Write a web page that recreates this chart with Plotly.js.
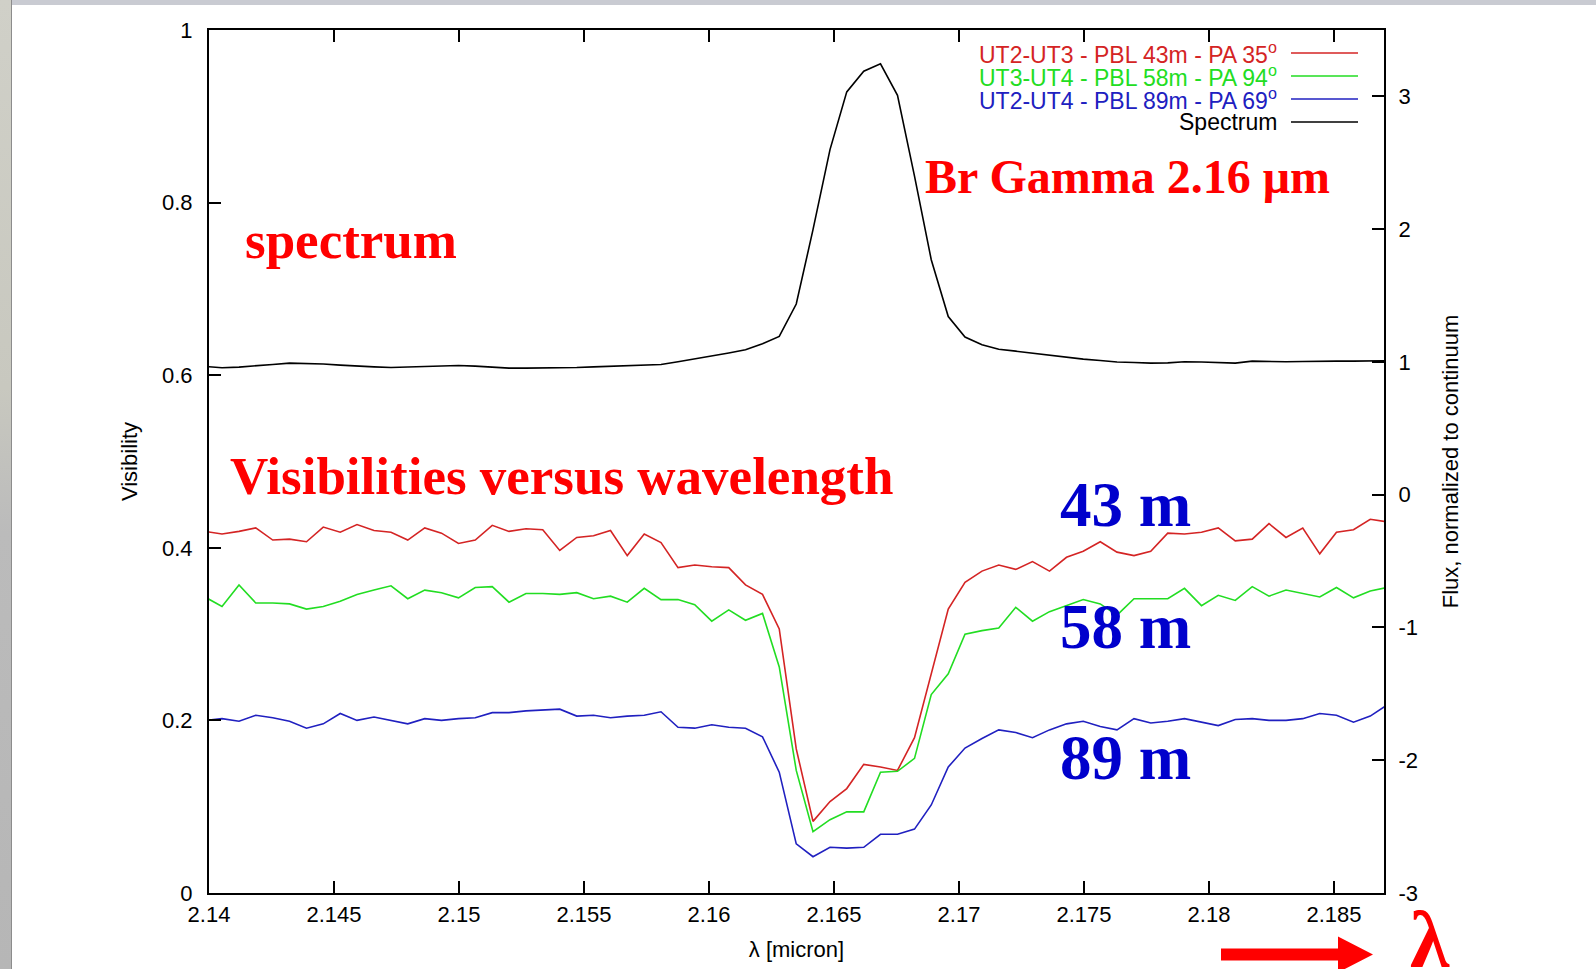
<!DOCTYPE html>
<html><head><meta charset="utf-8">
<script src="https://cdn.plot.ly/plotly-3.0.1.min.js"></script>
<style>
html,body{margin:0;padding:0;background:#fff;overflow:hidden;}
#chart{width:1596px;height:969px;position:absolute;left:0;top:0;}
.edge-left{position:absolute;left:0;top:0;width:11px;height:969px;background:linear-gradient(#d0d0c8,#c8c8bf 40%,#bbbbbb 55%,#b6b6b6);border-right:1px solid #8c8c8c;pointer-events:none;}
.edge-top{position:absolute;left:0;top:0;width:1596px;height:5px;background:#c9cbd2;pointer-events:none;}
</style></head>
<body>
<div id="chart"></div>
<div class="edge-top"></div><div class="edge-left"></div>
<script>
// wavelength grid (micron)
const lambda = [2.13984,2.14052,2.14120,2.14187,2.14255,2.14322,2.14390,2.14457,2.14525,2.14592,
2.14660,2.14728,2.14795,2.14863,2.14930,2.14998,2.15065,2.15133,2.15200,2.15268,
2.15335,2.15403,2.15471,2.15538,2.15606,2.15673,2.15741,2.15808,2.15876,2.15943,
2.16011,2.16079,2.16146,2.16214,2.16281,2.16349,2.16416,2.16484,2.16551,2.16619,
2.16686,2.16754,2.16822,2.16889,2.16957,2.17024,2.17092,2.17159,2.17227,2.17294,
2.17362,2.17430,2.17497,2.17565,2.17632,2.17700,2.17767,2.17835,2.17902,2.17970,
2.18037,2.18105,2.18173,2.18240,2.18308,2.18375,2.18443,2.18510,2.18578,2.18645,2.18713];

// UT2-UT3, 43 m
const vis43 = [0.419,0.416,0.419,0.423,0.409,0.410,0.407,0.424,0.418,0.427,
0.420,0.418,0.409,0.423,0.417,0.405,0.409,0.426,0.419,0.422,
0.421,0.397,0.412,0.414,0.420,0.391,0.416,0.406,0.377,0.380,
0.378,0.377,0.357,0.346,0.306,0.167,0.083,0.106,0.121,0.149,
0.146,0.142,0.180,0.255,0.329,0.360,0.373,0.380,0.375,0.384,
0.373,0.389,0.396,0.407,0.395,0.391,0.396,0.417,0.416,0.418,
0.423,0.408,0.410,0.428,0.412,0.423,0.393,0.418,0.421,0.433,0.430];

// UT3-UT4, 58 m
const vis58 = [0.343,0.332,0.357,0.336,0.336,0.335,0.329,0.332,0.338,0.346,
0.351,0.356,0.341,0.351,0.348,0.342,0.354,0.355,0.337,0.347,
0.347,0.346,0.348,0.341,0.344,0.337,0.353,0.340,0.340,0.334,
0.315,0.328,0.316,0.324,0.262,0.142,0.071,0.085,0.094,0.094,
0.140,0.141,0.156,0.230,0.254,0.300,0.304,0.307,0.331,0.315,
0.326,0.333,0.340,0.335,0.322,0.341,0.341,0.341,0.353,0.333,
0.345,0.339,0.355,0.344,0.351,0.347,0.343,0.354,0.342,0.350,0.354];

// UT2-UT4, 89 m
const vis89 = [0.200,0.202,0.199,0.206,0.203,0.199,0.191,0.196,0.208,0.200,
0.204,0.200,0.196,0.202,0.200,0.202,0.203,0.209,0.209,0.211,
0.212,0.213,0.205,0.206,0.203,0.205,0.206,0.210,0.192,0.191,
0.195,0.192,0.191,0.181,0.140,0.057,0.042,0.053,0.052,0.053,
0.068,0.068,0.074,0.102,0.146,0.168,0.179,0.189,0.186,0.180,
0.189,0.196,0.199,0.193,0.189,0.202,0.197,0.199,0.202,0.198,
0.194,0.201,0.202,0.200,0.200,0.202,0.208,0.206,0.198,0.205,0.218];

// Spectrum, flux normalized to continuum
const flux = [0.966,0.956,0.961,0.973,0.981,0.991,0.988,0.984,0.976,0.968,
0.963,0.958,0.963,0.968,0.971,0.973,0.968,0.961,0.953,0.953,
0.953,0.953,0.958,0.963,0.968,0.971,0.973,0.981,1.001,1.021,
1.046,1.067,1.091,1.137,1.192,1.436,1.996,2.599,3.034,3.190,
3.245,3.008,2.400,1.770,1.342,1.187,1.129,1.095,1.081,1.067,
1.051,1.033,1.021,1.011,0.999,0.996,0.991,0.993,1.001,0.999,
0.993,0.991,1.006,1.001,1.001,1.003,1.006,1.006,1.006,1.009,1.009];

// right-axis tick labels (plain hyphen minus, as in the original)
const fluxTickVals = [-3, -2, -1, 0, 1, 2, 3];
const fluxTickText = ['-3', '-2', '-1', '0', '1', '2', '3'];

const seriesNames = ['UT2-UT3 - PBL 43m - PA 35<sup>o</sup>','UT3-UT4 - PBL 58m - PA 94<sup>o</sup>','UT2-UT4 - PBL 89m - PA 69<sup>o</sup>','Spectrum'];
const seriesColors = ['#d42424','#22dd22','#2020c0','#000000'];

const W = 1596, H = 969, ML = 209, MR = 212, MT = 30, MB = 76;
const PW = W - ML - MR, PH = H - MT - MB;
const px = x => (x - ML) / PW;
const py = y => (H - MB - y) / PH;

const sans = 'Liberation Sans, Arial, Helvetica, sans-serif';
const serif = 'Liberation Serif, Times New Roman, serif';

const traces = [
  {x: lambda, y: vis43, name: seriesNames[0], type: 'scatter', mode: 'lines', line: {color: seriesColors[0], width: 1.6}, showlegend: false},
  {x: lambda, y: vis58, name: seriesNames[1], type: 'scatter', mode: 'lines', line: {color: seriesColors[1], width: 1.6}, showlegend: false},
  {x: lambda, y: vis89, name: seriesNames[2], type: 'scatter', mode: 'lines', line: {color: seriesColors[2], width: 1.6}, showlegend: false},
  {x: lambda, y: flux, name: seriesNames[3], type: 'scatter', mode: 'lines', yaxis: 'y2', line: {color: seriesColors[3], width: 1.6}, showlegend: false}
];

const annotations = [];
const shapes = [];
// custom legend: text right-aligned, line sample on the right
const legRows = [53, 76, 99, 122];
seriesNames.forEach((n, i) => {
  annotations.push({xref: 'paper', yref: 'paper', x: px(1279), y: py(legRows[i]), xanchor: 'right', yanchor: 'middle',
    text: n, showarrow: false, font: {family: sans, size: 23, color: seriesColors[i]}});
  shapes.push({type: 'line', xref: 'paper', yref: 'paper', x0: px(1291), x1: px(1358), y0: py(legRows[i]), y1: py(legRows[i]),
    line: {color: seriesColors[i], width: 1.5}});
});

function bigText(txt, left, center, size, color) {
  annotations.push({xref: 'paper', yref: 'paper', x: px(left), y: py(center), xanchor: 'left', yanchor: 'middle',
    text: '<b>' + txt + '</b>', showarrow: false, font: {family: serif, size: size, color: color}});
}
bigText('spectrum', 243, 240, 53, '#ff0000');
bigText('Br Gamma 2.16 \u03bcm', 923, 177, 48, '#ff0000');
bigText('Visibilities versus wavelength', 228, 476, 53, '#ff0000');
bigText('43 m', 1058, 505, 63, '#0000cc');
bigText('58 m', 1058, 627, 63, '#0000cc');
bigText('89 m', 1058, 758, 63, '#0000cc');
bigText('\u03bb', 1408, 940, 80, '#ff0000');

// red arrow at the bottom right
const ax0 = 1221, ax1 = 1338, axTip = 1373, ayc = 954.5, shaftHalf = 6, headHalf = 18;
shapes.push({type: 'path', xref: 'paper', yref: 'paper', fillcolor: '#ff0000', line: {width: 0},
  path: `M ${px(ax0)} ${py(ayc - shaftHalf)} L ${px(ax1)} ${py(ayc - shaftHalf)} L ${px(ax1)} ${py(ayc - headHalf)} L ${px(axTip)} ${py(ayc)} L ${px(ax1)} ${py(ayc + headHalf)} L ${px(ax1)} ${py(ayc + shaftHalf)} L ${px(ax0)} ${py(ayc + shaftHalf)} Z`});

const axisCommon = {showgrid: false, zeroline: false, showline: true, linecolor: '#000', linewidth: 2,
  ticks: 'inside', ticklen: 12, tickwidth: 2, tickcolor: '#000', tickfont: {family: sans, size: 22, color: '#000'}};

const layout = {
  width: W, height: H,
  margin: {l: ML, r: MR, t: MT, b: MB, pad: 0},
  paper_bgcolor: '#ffffff', plot_bgcolor: '#ffffff',
  showlegend: false,
  xaxis: Object.assign({}, axisCommon, {range: [2.14, 2.187], tick0: 2.14, dtick: 0.005, mirror: 'ticks',
    ticklabelstandoff: 1,
    title: {text: '\u03bb [micron]', font: {family: sans, size: 22, color: '#000'}, standoff: 15}}),
  yaxis: Object.assign({}, axisCommon, {range: [0, 1], dtick: 0.2, ticklabelstandoff: 10,
    title: {text: 'Visibility', font: {family: sans, size: 22, color: '#000'}, standoff: 18}}),
  yaxis2: Object.assign({}, axisCommon, {range: [-3, 3.5], tickmode: 'array', tickvals: fluxTickVals, ticktext: fluxTickText,
    overlaying: 'y', side: 'right', ticklabelstandoff: 8,
    title: {text: 'Flux, normalized to continuum', font: {family: sans, size: 22, color: '#000'}, standoff: 26}}),
  annotations: annotations,
  shapes: shapes
};

Plotly.newPlot('chart', traces, layout, {displayModeBar: false, staticPlot: true});
</script>
</body></html>
